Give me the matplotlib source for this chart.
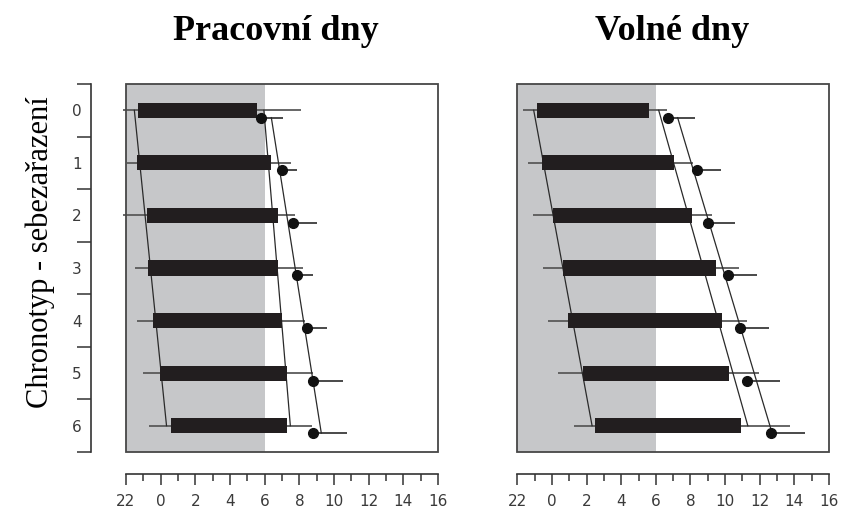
import numpy as np
import matplotlib
matplotlib.use("Agg")
import matplotlib.pyplot as plt
from matplotlib.patches import Rectangle

# chronotype (self-rated), rows of the chart
chronotype = [0, 1, 2, 3, 4, 5, 6]
tick_hours = [-2, 0, 2, 4, 6, 8, 10, 12, 14, 16]
tick_labels = ["22", "0", "2", "4", "6", "8", "10", "12", "14", "16"]

# work days (hours, 22 h shown as -2)
work_start = [-1.31, -1.38, -0.77, -0.75, -0.46, -0.04, 0.58]
work_end = [5.56, 6.37, 6.79, 6.79, 6.98, 7.27, 7.27]
work_lo = [-2.17, -1.94, -2.15, -1.48, -1.35, -1.0, -0.65]
work_hi = [8.1, 7.5, 7.75, 8.23, 8.33, 8.77, 8.71]
work_dot = [5.79, 6.98, 7.65, 7.85, 8.46, 8.77, 8.81]
work_dot_lo = [5.56, 6.75, 7.5, 7.7, 8.3, 8.6, 8.6]
work_dot_hi = [7.06, 7.85, 9.0, 8.77, 9.58, 10.54, 10.73]

# free days
free_start = [-0.88, -0.59, 0.04, 0.66, 0.94, 1.77, 2.49]
free_end = [5.62, 7.05, 8.07, 9.47, 9.8, 10.24, 10.92]
free_lo = [-1.69, -1.4, -1.11, -0.5, -0.21, 0.33, 1.27]
free_hi = [6.63, 8.13, 9.22, 10.82, 11.24, 11.97, 13.74]
free_dot = [6.68, 8.39, 9.03, 10.15, 10.86, 11.28, 12.63]
free_dot_lo = [6.5, 8.2, 8.85, 10.0, 10.7, 11.1, 12.45]
free_dot_hi = [8.26, 9.74, 10.57, 11.82, 12.55, 13.17, 14.6]

night_end = 6
dot_shift = 0.14
bar_h = 0.29

TICK_FONT = dict(family="DejaVu Sans", size=11, color="#3a3a3a")


def draw_panel(ax, start, end, lo, hi, dot, dot_lo, dot_hi, show_y):
    y = np.array(chronotype, dtype=float)
    yd = y + dot_shift

    ax.axvspan(-2, night_end, color="#c6c7c9", lw=0, zorder=0)

    # fitted trend lines through starts, ends and dots
    for vals, yy in ((start, y), (end, y), (dot, yd)):
        k, q = np.polyfit(y, vals, 1)
        ax.plot(k * yy[[0, -1]] + q, yy[[0, -1]], color="#2a2a2a", lw=0.9, zorder=2)

    ax.hlines(y, lo, hi, color="#5a5a5a", lw=1.3, zorder=1, clip_on=False)
    ax.hlines(yd, dot_lo, dot_hi, color="#3a3a3a", lw=1.3, zorder=1, clip_on=False)
    ax.barh(y, np.array(end) - np.array(start), left=start, height=bar_h,
            color="#221e1f", zorder=3)
    ax.plot(dot, yd, "o", color="#111111", ms=7, zorder=4)

    ax.set_xlim(-2, 16)
    ax.set_ylim(6.5, -0.5)

    # box frame drawn as a patch, axis spines detached
    ax.add_patch(Rectangle((0, 0), 1, 1, transform=ax.transAxes, fill=False,
                           ec="#474747", lw=1.3, zorder=5, clip_on=False))
    ax.spines["top"].set_visible(False)
    ax.spines["right"].set_visible(False)
    ax.spines["bottom"].set_position(("outward", 16))
    ax.spines["bottom"].set_color("#333333")
    ax.spines["bottom"].set_linewidth(1.2)

    ax.set_xticks(tick_hours)
    ax.set_xticklabels(tick_labels, fontdict=TICK_FONT)
    ax.set_xticks(np.arange(-1, 16, 2), minor=True)
    ax.tick_params(axis="x", which="major", length=8, width=1.1, color="#333333", pad=6)
    ax.tick_params(axis="x", which="minor", length=5, width=1.1, color="#333333")

    if show_y:
        ax.spines["left"].set_position(("outward", 25))
        ax.spines["left"].set_color("#333333")
        ax.spines["left"].set_linewidth(1.2)
        ax.set_yticks(np.arange(-0.5, 7, 1))
        ax.set_yticklabels([])
        ax.set_yticks(chronotype, minor=True)
        ax.set_yticklabels([str(c) for c in chronotype], minor=True, fontdict=TICK_FONT)
        ax.tick_params(axis="y", which="major", length=10, width=1.1, color="#333333")
        ax.tick_params(axis="y", which="minor", length=0, pad=7)
    else:
        ax.spines["left"].set_visible(False)
        ax.set_yticks([])


fig = plt.figure(figsize=(8.41, 5.08), dpi=100)
ax1 = fig.add_axes([126 / 841, 1 - 452 / 508, 312 / 841, 368 / 508])
ax2 = fig.add_axes([517.3 / 841, 1 - 452 / 508, 311.7 / 841, 368 / 508])

draw_panel(ax1, work_start, work_end, work_lo, work_hi,
           work_dot, work_dot_lo, work_dot_hi, True)
draw_panel(ax2, free_start, free_end, free_lo, free_hi,
           free_dot, free_dot_lo, free_dot_hi, False)

fig.text(276 / 841, 1 - 31 / 508, "Pracovní dny", family="Liberation Serif",
         weight="bold", size=26, ha="center", va="center")
fig.text(672 / 841, 1 - 31 / 508, "Volné dny", family="Liberation Serif",
         weight="bold", size=26, ha="center", va="center")
fig.text(40 / 841, 1 - 252 / 508, "Chronotyp - sebezařazení", family="Liberation Serif",
         size=22, rotation=90, ha="center", va="center")

fig.savefig("out.png", dpi=100)
